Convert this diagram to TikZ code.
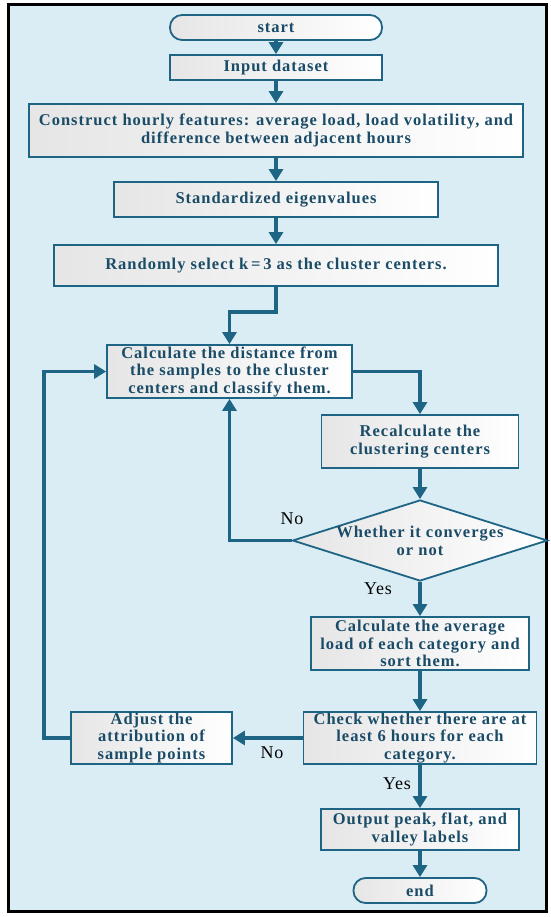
\documentclass[tikz,border=0pt]{standalone}
\usepackage{fontspec}
\setmainfont{Liberation Serif}
\usetikzlibrary{shapes.geometric,arrows.meta}
\definecolor{lineblue}{RGB}{30,100,132}
\definecolor{txtblue}{RGB}{26,76,104}
\definecolor{bgblue}{RGB}{218,237,244}
\tikzset{
  boxtext/.style={align=center, text=txtblue, inner sep=0pt,
    font=\bfseries\fontsize{16.5}{17.5}\selectfont\addfontfeatures{LetterSpace=6}},
  box/.style={boxtext, draw=lineblue, line width=1.8pt, left color=black!10, right color=white},
  term/.style={box, rounded corners=12pt},
  arr/.style={draw=lineblue, line width=3.6pt, -{Triangle[width=14pt,length=12pt]}},
  yn/.style={font=\fontsize{18}{20}\selectfont\addfontfeatures{LetterSpace=4}, text=black, inner sep=0pt},
}
\begin{document}
\begin{tikzpicture}[x=1pt,y=-1pt]
\useasboundingbox (0,0) rectangle (550,917);
\draw[line width=3pt, fill=bgblue] (8,5) rectangle (546,911);
\node[term, minimum width=212, minimum height=25] (start) at (276,27.5) {start};
\node[box, minimum width=212, minimum height=25] (input) at (276,67.5) {Input dataset};
\node[box, minimum width=494, minimum height=53] (cons) at (276,130.5) {Construct hourly features: average load, load volatility, and\\difference between adjacent hours};
\node[box, minimum width=324, minimum height=35] (std) at (276,199.5) {Standardized eigenvalues};
\node[box, minimum width=444, minimum height=41] (rand) at (276,265.5) {Randomly select k\,=\,3 as the cluster centers.};
\node[box, minimum width=245, minimum height=53] (calc) at (229.5,371.5) {Calculate the distance from\\the samples to the cluster\\centers and classify them.};
\node[box, minimum width=197, minimum height=53] (recalc) at (420,441.5) {Recalculate the\\clustering centers};
\node[diamond, draw=lineblue, line width=1.8pt, left color=black!10, right color=white, inner sep=0pt, minimum width=255, minimum height=81] (dia) at (420,540.5) {};
\node[boxtext] (diat) at (420,541) {Whether it converges\\or not};
\node[box, minimum width=218, minimum height=53] (avg) at (420,643.5) {Calculate the average\\load of each category and\\sort them.};
\node[box, minimum width=233, minimum height=52] (check) at (420,738) {Check whether there are at\\least 6 hours for each\\category.};
\node[box, minimum width=161, minimum height=52] (adj) at (151.5,738) {Adjust the\\attribution of\\sample points};
\node[box, minimum width=198, minimum height=41] (out) at (420,829.5) {Output peak, flat, and\\valley labels};
\node[term, minimum width=133, minimum height=25] (end) at (420,890.5) {end};
\coordinate (bend1) at (276,312);
\coordinate (loopx) at (44,738);
\draw[arr] (start) -- (input);
\draw[arr] (input) -- (cons);
\draw[arr] (cons) -- (std);
\draw[arr] (std) -- (rand);
\draw[arr] (rand.south) -- (bend1) -| (calc.north);
\draw[arr] (calc.east) -| (recalc.north);
\draw[arr] (recalc) -- (dia);
\draw[arr] (dia.west) -| (calc.south);
\draw[arr] (dia) -- (avg);
\draw[arr] (avg) -- (check);
\draw[arr] (check) -- (adj);
\draw[arr] (adj.west) -- (loopx) |- (calc.west);
\draw[arr] (check) -- (out);
\draw[arr] (out) -- (end);
\node[yn] (no1) at (292,519) {No};
\node[yn] (yes1) at (378,589) {Yes};
\node[yn] (no2) at (272,753) {No};
\node[yn] (yes2) at (397,784) {Yes};
\end{tikzpicture}
\end{document}
